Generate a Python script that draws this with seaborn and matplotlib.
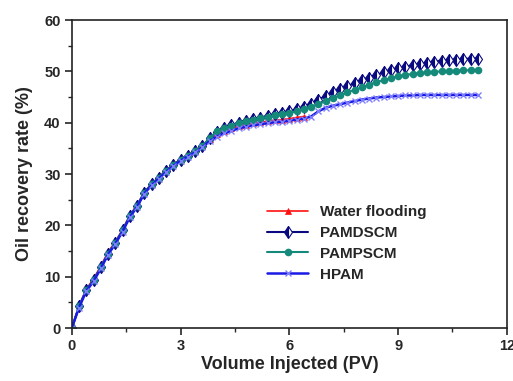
import matplotlib
matplotlib.use("Agg")
import matplotlib.pyplot as plt
import seaborn as sns
import pandas as pd
from matplotlib.ticker import MultipleLocator

# ---- data ----
pv = [0.0, 0.2, 0.4, 0.6, 0.8, 1.0, 1.2, 1.4, 1.6, 1.8, 2.0, 2.2, 2.4, 2.6, 2.8,
      3.0, 3.2, 3.4, 3.6, 3.8, 4.0, 4.2, 4.4, 4.6, 4.8, 5.0, 5.2, 5.4, 5.6, 5.8,
      6.0, 6.2, 6.4, 6.6, 6.8, 7.0, 7.2, 7.4, 7.6, 7.8, 8.0, 8.2, 8.4, 8.6, 8.8,
      9.0, 9.2, 9.4, 9.6, 9.8, 10.0, 10.2, 10.4, 10.6, 10.8, 11.0, 11.2]

water_flooding = [0.0, 4.4, 7.6, 9.6, 12.1, 14.8, 16.8, 19.2, 22.0, 24.0, 26.5, 28.1, 29.4, 30.7, 31.9,
                  32.9, 33.7, 34.5, 35.5, 36.8, 37.8, 38.4, 38.9, 39.3, 39.6, 39.9, 40.1, 40.3, 40.5, 40.6,
                  40.8, 41.0, 41.2]

pamdscm = [0.0, 4.2, 7.4, 9.3, 11.8, 14.5, 16.6, 19.0, 21.8, 23.8, 26.4, 28.0, 29.3, 30.6, 31.8,
           32.8, 33.6, 34.4, 35.4, 37.0, 38.2, 38.9, 39.5, 40.0, 40.4, 40.7, 41.0, 41.3, 41.6, 41.9,
           42.2, 42.6, 43.1, 43.7, 44.5, 45.2, 45.9, 46.5, 47.1, 47.7, 48.3, 48.8, 49.3, 49.8, 50.2,
           50.6, 50.9, 51.2, 51.5, 51.7, 51.9, 52.1, 52.2, 52.3, 52.4, 52.5, 52.5]

pampscm = [0.0, 4.2, 7.4, 9.3, 11.8, 14.5, 16.6, 19.0, 21.8, 23.8, 26.4, 28.0, 29.3, 30.6, 31.8,
           32.8, 33.6, 34.4, 35.4, 37.0, 38.3, 38.9, 39.4, 39.9, 40.3, 40.6, 40.9, 41.1, 41.4, 41.6,
           41.9, 42.2, 42.6, 43.1, 43.6, 44.2, 44.8, 45.3, 45.9, 46.4, 46.9, 47.4, 47.9, 48.3, 48.7,
           49.0, 49.3, 49.5, 49.7, 49.8, 49.9, 50.0, 50.1, 50.1, 50.2, 50.2, 50.2]

hpam = [0.0, 4.0, 7.2, 9.1, 11.6, 14.3, 16.4, 18.8, 21.6, 23.6, 26.2, 27.8, 29.1, 30.4, 31.6,
        32.6, 33.4, 34.2, 35.2, 36.4, 37.3, 37.9, 38.4, 38.9, 39.2, 39.5, 39.7, 39.9, 40.1, 40.2,
        40.4, 40.6, 40.8, 41.2, 42.2, 42.9, 43.3, 43.6, 43.9, 44.2, 44.5, 44.7, 44.9, 45.0, 45.1,
        45.2, 45.3, 45.3, 45.4, 45.4, 45.4, 45.4, 45.4, 45.4, 45.4, 45.4, 45.4]

labels = ["Water flooding", "PAMDSCM", "PAMPSCM", "HPAM"]
x_ticks = [0, 3, 6, 9, 12]
y_ticks = [0, 10, 20, 30, 40, 50, 60]

# ---- styling ----
sns.set_style("ticks")
plt.rcParams["font.family"] = ["Liberation Sans", "DejaVu Sans"]
plt.rcParams["font.weight"] = "bold"

fig = plt.figure(figsize=(5.13, 3.81), dpi=100)
ax = fig.add_axes([0.140, 0.139, 0.848, 0.8085])

df_w = pd.DataFrame({"pv": pv[:len(water_flooding)], "val": water_flooding})
df_d = pd.DataFrame({"pv": pv, "val": pamdscm})
df_p = pd.DataFrame({"pv": pv, "val": pampscm})
df_h = pd.DataFrame({"pv": pv, "val": hpam})

sns.lineplot(data=df_w, x="pv", y="val", ax=ax, color="#ff1010", lw=1.2,
             marker="^", markersize=5, markeredgewidth=0.5, markeredgecolor="#ff1010",
             label=labels[0])
sns.lineplot(data=df_d, x="pv", y="val", ax=ax, color="#0a0a80", lw=1.5,
             marker="d", markersize=6, fillstyle="left", markerfacecoloralt="white",
             markeredgecolor="#0a0a80", markeredgewidth=0.8, label=labels[1])
sns.lineplot(data=df_p, x="pv", y="val", ax=ax, color="#168a7a", lw=1.5,
             marker="o", markersize=5.5, markeredgewidth=0, label=labels[2])
sns.lineplot(data=df_h, x="pv", y="val", ax=ax, color="#1a1ae6", lw=1.8,
             marker="x", markersize=5, markeredgecolor="#8080ff",
             markeredgewidth=1.0, label=labels[3])

ax.set_xlim(0, 12)
ax.set_ylim(0, 60)
ax.set_xticks(x_ticks)
ax.set_yticks(y_ticks)
ax.set_xticklabels([str(t) for t in x_ticks])
ax.set_yticklabels([str(t) for t in y_ticks])
ax.xaxis.set_minor_locator(MultipleLocator(1.5))
ax.yaxis.set_minor_locator(MultipleLocator(5))
ax.tick_params(which="major", direction="out", length=5, width=1.2, labelsize=10.5,
               top=False, right=False, pad=3)
ax.tick_params(which="minor", direction="out", length=3, width=1.0, top=False, right=False)
for lab in ax.get_xticklabels() + ax.get_yticklabels():
    lab.set_fontweight("bold")
for side in ["top", "right", "bottom", "left"]:
    ax.spines[side].set_visible(True)
    ax.spines[side].set_linewidth(1.2)
    ax.spines[side].set_color("#222222")

ax.set_xlabel("Volume Injected (PV)", fontsize=13, fontweight="bold", labelpad=2)
ax.set_ylabel("Oil recovery rate (%)", fontsize=13, fontweight="bold", labelpad=8)

leg = ax.legend(loc="upper left", bbox_to_anchor=(267 / 513, 1 - 205 / 381),
                bbox_transform=fig.transFigure, frameon=False, fontsize=11,
                handlelength=2.7, handletextpad=0.8, labelspacing=0.45,
                borderpad=0, borderaxespad=0)
for t in leg.get_texts():
    t.set_fontweight("bold")

fig.savefig("out.png", dpi=100)
